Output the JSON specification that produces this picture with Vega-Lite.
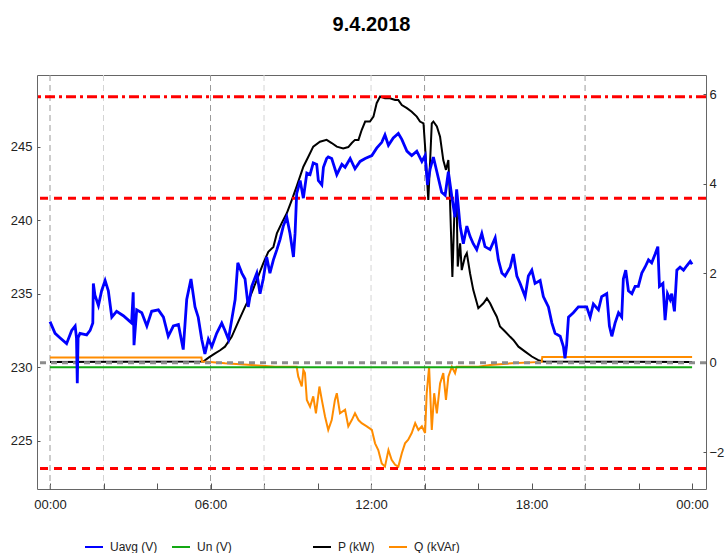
{
  "$schema": "https://vega.github.io/schema/vega-lite/v6.json",
  "width": 669,
  "height": 414,
  "autosize": {"type": "none"},
  "padding": {"left": 37, "top": 75, "right": 20, "bottom": 64},
  "title": {"text": "9.4.2018", "fontSize": 20, "font": "Liberation Sans", "fontWeight": "bold", "color": "#000000", "anchor": "middle", "offset": 40},
  "config": {
    "font": "Liberation Sans",
    "view": {"stroke": "#666666", "strokeWidth": 1},
    "axis": {"domain": false, "grid": false, "labelFontSize": 13, "labelColor": "#222222", "tickColor": "#555555", "labelFont": "Liberation Sans"},
    "legend": {"labelFont": "Liberation Sans", "labelFontSize": 12, "labelColor": "#222222", "symbolType": "stroke", "symbolSize": 324, "symbolStrokeWidth": 2, "columnPadding": 10, "labelOffset": 6}
  },
  "datasets": {
    "vg": [{"t": 0, "k": "d"}, {"t": 6, "k": "d"}, {"t": 14, "k": "d"}, {"t": 20, "k": "d"}, {"t": 2, "k": "l"}, {"t": 8, "k": "l"}, {"t": 12, "k": "l"}],
    "lim": [{"v": 248.4, "k": "dd"}, {"v": 241.5, "k": "d"}, {"v": 223.1, "k": "d"}],
    "zero": [{"v": 0}],
    "un": [{"t": 0, "v": 230, "s": "Un (V)"}, {"t": 24, "v": 230, "s": "Un (V)"}],
    "u": [
      {"t":0,"v":233.1},{"t":0.19,"v":232.3},{"t":0.37,"v":232.0},{"t":0.62,"v":231.6},{"t":0.81,"v":232.5},{"t":0.94,"v":232.8},{"t":0.99,"v":232.0},{"t":1.02,"v":228.9},{"t":1.05,"v":232.0},{"t":1.12,"v":232.3},{"t":1.37,"v":232.2},{"t":1.5,"v":232.5},{"t":1.6,"v":233.0},{"t":1.62,"v":235.7},{"t":1.68,"v":234.9},{"t":1.81,"v":234.2},{"t":1.93,"v":235.2},{"t":2.06,"v":235.9},{"t":2.18,"v":235.2},{"t":2.31,"v":233.4},{"t":2.49,"v":233.8},{"t":2.74,"v":233.5},{"t":2.93,"v":233.2},{"t":3.05,"v":233.0},{"t":3.11,"v":235.1},{"t":3.14,"v":231.5},{"t":3.24,"v":233.9},{"t":3.43,"v":233.7},{"t":3.62,"v":232.8},{"t":3.8,"v":233.8},{"t":4.05,"v":233.9},{"t":4.24,"v":233.4},{"t":4.42,"v":232.1},{"t":4.61,"v":232.8},{"t":4.8,"v":232.9},{"t":4.98,"v":231.2},{"t":5.11,"v":234.6},{"t":5.27,"v":236.0},{"t":5.42,"v":234.1},{"t":5.54,"v":233.4},{"t":5.67,"v":231.9},{"t":5.79,"v":230.9},{"t":5.92,"v":231.9},{"t":6.05,"v":231.4},{"t":6.23,"v":232.3},{"t":6.42,"v":233.0},{"t":6.54,"v":232.5},{"t":6.67,"v":231.9},{"t":6.79,"v":233.2},{"t":6.92,"v":234.6},{"t":7.02,"v":237.1},{"t":7.17,"v":236.4},{"t":7.29,"v":236.0},{"t":7.41,"v":234.1},{"t":7.54,"v":235.5},{"t":7.73,"v":236.4},{"t":7.85,"v":235.0},{"t":7.97,"v":236.0},{"t":8.1,"v":237.5},{"t":8.22,"v":236.4},{"t":8.35,"v":237.3},{"t":8.48,"v":238.0},{"t":8.6,"v":238.7},{"t":8.72,"v":239.6},{"t":8.85,"v":240.2},{"t":8.97,"v":239.1},{"t":9.1,"v":237.5},{"t":9.16,"v":239.1},{"t":9.22,"v":241.8},{"t":9.35,"v":242.7},{"t":9.47,"v":241.5},{"t":9.6,"v":243.2},{"t":9.72,"v":243.1},{"t":9.84,"v":243.9},{"t":9.97,"v":243.8},{"t":10.03,"v":242.7},{"t":10.16,"v":242.4},{"t":10.22,"v":243.6},{"t":10.34,"v":244.2},{"t":10.4,"v":244.3},{"t":10.53,"v":244.2},{"t":10.72,"v":243.1},{"t":10.91,"v":243.8},{"t":11.03,"v":243.6},{"t":11.22,"v":244.2},{"t":11.4,"v":243.5},{"t":11.59,"v":244.0},{"t":11.78,"v":244.2},{"t":12.03,"v":244.4},{"t":12.21,"v":244.9},{"t":12.4,"v":245.3},{"t":12.52,"v":245.8},{"t":12.65,"v":245.1},{"t":12.83,"v":245.6},{"t":13.02,"v":245.9},{"t":13.15,"v":245.5},{"t":13.34,"v":244.7},{"t":13.52,"v":244.4},{"t":13.71,"v":244.7},{"t":13.9,"v":244.0},{"t":14.02,"v":244.4},{"t":14.11,"v":242.4},{"t":14.21,"v":243.5},{"t":14.33,"v":244.3},{"t":14.46,"v":243.3},{"t":14.64,"v":241.9},{"t":14.77,"v":241.7},{"t":14.89,"v":243.3},{"t":15.02,"v":241.6},{"t":15.14,"v":240.2},{"t":15.2,"v":242.1},{"t":15.33,"v":239.6},{"t":15.45,"v":238.4},{"t":15.58,"v":239.6},{"t":15.7,"v":238.9},{"t":15.82,"v":238.4},{"t":15.95,"v":238.0},{"t":16.14,"v":239.1},{"t":16.26,"v":238.2},{"t":16.45,"v":238.0},{"t":16.64,"v":238.8},{"t":16.76,"v":237.3},{"t":16.89,"v":236.4},{"t":17.01,"v":236.2},{"t":17.2,"v":236.8},{"t":17.32,"v":237.7},{"t":17.45,"v":236.2},{"t":17.57,"v":235.7},{"t":17.76,"v":234.8},{"t":17.88,"v":236.2},{"t":18.01,"v":236.6},{"t":18.13,"v":235.7},{"t":18.32,"v":235.9},{"t":18.44,"v":234.8},{"t":18.63,"v":234.1},{"t":18.76,"v":233.0},{"t":18.88,"v":232.3},{"t":19.07,"v":232.1},{"t":19.19,"v":231.4},{"t":19.25,"v":230.6},{"t":19.31,"v":231.5},{"t":19.38,"v":233.4},{"t":19.56,"v":233.7},{"t":19.75,"v":234.1},{"t":19.94,"v":234.1},{"t":20.06,"v":234.1},{"t":20.19,"v":233.4},{"t":20.31,"v":234.3},{"t":20.5,"v":233.9},{"t":20.62,"v":234.8},{"t":20.81,"v":235.0},{"t":20.91,"v":232.8},{"t":21.0,"v":232.1},{"t":21.12,"v":233.0},{"t":21.25,"v":233.7},{"t":21.37,"v":233.4},{"t":21.43,"v":236.0},{"t":21.52,"v":236.6},{"t":21.62,"v":235.2},{"t":21.75,"v":235.0},{"t":21.87,"v":235.5},{"t":21.99,"v":235.5},{"t":22.12,"v":236.4},{"t":22.24,"v":236.8},{"t":22.37,"v":237.3},{"t":22.49,"v":237.1},{"t":22.62,"v":237.7},{"t":22.72,"v":238.2},{"t":22.78,"v":235.5},{"t":22.91,"v":235.7},{"t":22.99,"v":233.2},{"t":23.08,"v":235.0},{"t":23.18,"v":234.6},{"t":23.24,"v":235.0},{"t":23.34,"v":233.8},{"t":23.43,"v":236.6},{"t":23.55,"v":236.8},{"t":23.68,"v":236.6},{"t":23.8,"v":236.9},{"t":23.93,"v":237.2},{"t":24.0,"v":237.0}
    ],
    "p": [
      {"t":0,"v":0.02},{"t":5.73,"v":0.03},{"t":5.94,"v":0.12},{"t":6.17,"v":0.21},{"t":6.36,"v":0.28},{"t":6.54,"v":0.36},{"t":6.79,"v":0.58},{"t":7.04,"v":0.92},{"t":7.29,"v":1.25},{"t":7.48,"v":1.48},{"t":7.73,"v":1.85},{"t":7.97,"v":2.22},{"t":8.16,"v":2.48},{"t":8.35,"v":2.59},{"t":8.48,"v":2.89},{"t":8.66,"v":3.12},{"t":8.85,"v":3.34},{"t":9.04,"v":3.64},{"t":9.22,"v":3.94},{"t":9.47,"v":4.38},{"t":9.66,"v":4.61},{"t":9.84,"v":4.83},{"t":10.09,"v":4.94},{"t":10.34,"v":4.98},{"t":10.53,"v":4.91},{"t":10.72,"v":4.83},{"t":10.96,"v":4.79},{"t":11.15,"v":4.82},{"t":11.28,"v":4.91},{"t":11.4,"v":4.98},{"t":11.53,"v":4.98},{"t":11.65,"v":5.2},{"t":11.78,"v":5.39},{"t":11.96,"v":5.39},{"t":12.09,"v":5.5},{"t":12.21,"v":5.8},{"t":12.34,"v":5.95},{"t":12.52,"v":5.91},{"t":12.71,"v":5.91},{"t":12.9,"v":5.87},{"t":13.02,"v":5.87},{"t":13.15,"v":5.76},{"t":13.34,"v":5.69},{"t":13.52,"v":5.61},{"t":13.71,"v":5.5},{"t":13.83,"v":5.39},{"t":13.96,"v":5.35},{"t":14.02,"v":4.83},{"t":14.08,"v":4.23},{"t":14.14,"v":3.64},{"t":14.21,"v":4.53},{"t":14.27,"v":5.35},{"t":14.33,"v":5.39},{"t":14.46,"v":5.28},{"t":14.58,"v":5.05},{"t":14.7,"v":4.53},{"t":14.8,"v":4.31},{"t":14.89,"v":4.53},{"t":14.95,"v":3.64},{"t":15.04,"v":1.92},{"t":15.11,"v":3.26},{"t":15.2,"v":3.56},{"t":15.24,"v":2.15},{"t":15.33,"v":2.67},{"t":15.39,"v":2.07},{"t":15.51,"v":2.37},{"t":15.58,"v":2.45},{"t":15.7,"v":2.0},{"t":15.82,"v":1.63},{"t":16.01,"v":1.22},{"t":16.2,"v":1.33},{"t":16.33,"v":1.44},{"t":16.45,"v":1.33},{"t":16.57,"v":1.18},{"t":16.7,"v":1.03},{"t":16.82,"v":0.81},{"t":17.01,"v":0.7},{"t":17.2,"v":0.58},{"t":17.32,"v":0.51},{"t":17.51,"v":0.36},{"t":17.76,"v":0.25},{"t":18.01,"v":0.14},{"t":18.25,"v":0.06},{"t":18.44,"v":0.03},{"t":24.0,"v":0.02}
    ],
    "q": [
      {"t":0,"v":0.12},{"t":5.66,"v":0.12},{"t":5.68,"v":0.03},{"t":5.98,"v":0.02},{"t":6.54,"v":-0.01},{"t":7.1,"v":-0.03},{"t":7.54,"v":-0.05},{"t":8.04,"v":-0.07},{"t":8.41,"v":-0.09},{"t":9.22,"v":-0.09},{"t":9.28,"v":-0.31},{"t":9.41,"v":-0.53},{"t":9.47,"v":-0.16},{"t":9.53,"v":-0.23},{"t":9.6,"v":-0.83},{"t":9.72,"v":-0.98},{"t":9.84,"v":-0.75},{"t":9.94,"v":-1.13},{"t":10.07,"v":-0.53},{"t":10.16,"v":-0.83},{"t":10.28,"v":-1.2},{"t":10.4,"v":-1.5},{"t":10.53,"v":-1.28},{"t":10.65,"v":-0.83},{"t":10.72,"v":-0.68},{"t":10.84,"v":-1.13},{"t":11.03,"v":-1.05},{"t":11.15,"v":-1.42},{"t":11.28,"v":-1.28},{"t":11.4,"v":-1.13},{"t":11.53,"v":-1.28},{"t":11.65,"v":-1.35},{"t":11.84,"v":-1.42},{"t":12.03,"v":-1.5},{"t":12.15,"v":-1.8},{"t":12.27,"v":-1.95},{"t":12.4,"v":-2.25},{"t":12.52,"v":-2.32},{"t":12.65,"v":-1.95},{"t":12.77,"v":-2.17},{"t":12.9,"v":-2.28},{"t":13.02,"v":-2.32},{"t":13.15,"v":-2.02},{"t":13.27,"v":-1.8},{"t":13.39,"v":-1.72},{"t":13.52,"v":-1.57},{"t":13.65,"v":-1.35},{"t":13.77,"v":-1.5},{"t":13.9,"v":-1.42},{"t":14.02,"v":-1.57},{"t":14.08,"v":-0.68},{"t":14.17,"v":-0.09},{"t":14.27,"v":-1.5},{"t":14.36,"v":-0.68},{"t":14.46,"v":-1.13},{"t":14.58,"v":-0.46},{"t":14.7,"v":-0.23},{"t":14.8,"v":-0.83},{"t":14.89,"v":-0.31},{"t":15.02,"v":-0.09},{"t":15.14,"v":-0.23},{"t":15.2,"v":-0.09},{"t":15.33,"v":-0.09},{"t":16.01,"v":-0.09},{"t":16.45,"v":-0.05},{"t":17.26,"v":-0.01},{"t":18.38,"v":0.02},{"t":18.4,"v":0.13},{"t":24.0,"v":0.13}
    ]
  },
  "layer": [
    {
      "layer": [
        {
          "data": {"name": "vg"},
          "transform": [{"filter": "datum.k == 'l'"}],
          "mark": {"type": "rule", "color": "#d4d4d4", "strokeWidth": 1, "strokeDash": [6, 4]},
          "encoding": {"x": {"field": "t", "type": "quantitative", "scale": {"domain": [-0.486, 24.52], "nice": false, "zero": false},
            "axis": {"values": [0, 2, 4, 6, 8, 10, 12, 14, 16, 18, 20, 22, 24], "labelExpr": "datum.value % 6 == 0 ? ((datum.value == 0 || datum.value == 24) ? '00:00' : (datum.value < 10 ? '0' : '') + datum.value + ':00') : ''", "tickSize": -6, "labelPadding": 15, "title": null, "labelOverlap": false, "labelFlush": false}}}
        },
        {
          "data": {"name": "vg"},
          "transform": [{"filter": "datum.k == 'd'"}],
          "mark": {"type": "rule", "color": "#9a9a9a", "strokeWidth": 1, "strokeDash": [6, 4]},
          "encoding": {"x": {"field": "t", "type": "quantitative", "scale": {"domain": [-0.486, 24.52], "nice": false, "zero": false},
            "axis": {"values": [0, 2, 4, 6, 8, 10, 12, 14, 16, 18, 20, 22, 24], "labelExpr": "datum.value % 6 == 0 ? ((datum.value == 0 || datum.value == 24) ? '00:00' : (datum.value < 10 ? '0' : '') + datum.value + ':00') : ''", "tickSize": -6, "labelPadding": 15, "title": null, "labelOverlap": false, "labelFlush": false}}}
        },
        {
          "data": {"name": "p"},
          "transform": [{"calculate": "'P (kW)'", "as": "s"}],
          "mark": {"type": "line", "strokeWidth": 2},
          "encoding": {
            "x": {"field": "t", "type": "quantitative", "scale": {"domain": [-0.486, 24.52], "nice": false, "zero": false},
              "axis": {"values": [0, 2, 4, 6, 8, 10, 12, 14, 16, 18, 20, 22, 24], "labelExpr": "datum.value % 6 == 0 ? ((datum.value == 0 || datum.value == 24) ? '00:00' : (datum.value < 10 ? '0' : '') + datum.value + ':00') : ''", "tickSize": -6, "labelPadding": 15, "title": null, "labelOverlap": false, "labelFlush": false}},
            "y": {"field": "v", "type": "quantitative", "scale": {"domain": [-2.82, 6.43], "nice": false, "zero": false},
              "axis": {"orient": "right", "values": [-2, 0, 2, 4, 6], "tickSize": -3, "labelPadding": 6, "title": null}},
            "color": {"field": "s", "type": "nominal", "scale": {"domain": ["P (kW)", "Q (kVAr)"], "range": ["#000000", "#ff8c00"]},
              "legend": {"orient": "none", "legendX": 275, "legendY": 462, "direction": "horizontal", "title": null}}
          }
        },
        {
          "data": {"name": "q"},
          "transform": [{"calculate": "'Q (kVAr)'", "as": "s"}],
          "mark": {"type": "line", "strokeWidth": 2},
          "encoding": {
            "x": {"field": "t", "type": "quantitative", "scale": {"domain": [-0.486, 24.52], "nice": false, "zero": false},
              "axis": {"values": [0, 2, 4, 6, 8, 10, 12, 14, 16, 18, 20, 22, 24], "labelExpr": "datum.value % 6 == 0 ? ((datum.value == 0 || datum.value == 24) ? '00:00' : (datum.value < 10 ? '0' : '') + datum.value + ':00') : ''", "tickSize": -6, "labelPadding": 15, "title": null, "labelOverlap": false, "labelFlush": false}},
            "y": {"field": "v", "type": "quantitative", "scale": {"domain": [-2.82, 6.43], "nice": false, "zero": false},
              "axis": {"orient": "right", "values": [-2, 0, 2, 4, 6], "tickSize": -3, "labelPadding": 6, "title": null}},
            "color": {"field": "s", "type": "nominal", "scale": {"domain": ["P (kW)", "Q (kVAr)"], "range": ["#000000", "#ff8c00"]},
              "legend": {"orient": "none", "legendX": 275, "legendY": 462, "direction": "horizontal", "title": null}}
          }
        },
        {
          "data": {"name": "zero"},
          "mark": {"type": "rule", "color": "#8c8c8c", "strokeWidth": 3, "strokeDash": [6, 5]},
          "encoding": {"y": {"field": "v", "type": "quantitative", "scale": {"domain": [-2.82, 6.43], "nice": false, "zero": false},
            "axis": {"orient": "right", "values": [-2, 0, 2, 4, 6], "tickSize": -3, "labelPadding": 6, "title": null}}}
        }
      ]
    },
    {
      "layer": [
        {
          "data": {"name": "lim"},
          "transform": [{"filter": "datum.k == 'dd'"}],
          "mark": {"type": "rule", "color": "#ff0000", "strokeWidth": 3, "strokeDash": [10, 4, 3, 4]},
          "encoding": {"y": {"field": "v", "type": "quantitative", "scale": {"domain": [221.71, 249.88], "nice": false, "zero": false},
            "axis": {"orient": "left", "values": [225, 230, 235, 240, 245], "tickSize": -3, "labelPadding": 8, "title": null}}}
        },
        {
          "data": {"name": "lim"},
          "transform": [{"filter": "datum.k == 'd'"}],
          "mark": {"type": "rule", "color": "#ff0000", "strokeWidth": 3, "strokeDash": [8, 6]},
          "encoding": {"y": {"field": "v", "type": "quantitative", "scale": {"domain": [221.71, 249.88], "nice": false, "zero": false},
            "axis": {"orient": "left", "values": [225, 230, 235, 240, 245], "tickSize": -3, "labelPadding": 8, "title": null}}}
        },
        {
          "data": {"name": "un"},
          "mark": {"type": "line", "strokeWidth": 2},
          "encoding": {
            "x": {"field": "t", "type": "quantitative", "scale": {"domain": [-0.486, 24.52], "nice": false, "zero": false},
              "axis": {"values": [0, 2, 4, 6, 8, 10, 12, 14, 16, 18, 20, 22, 24], "labelExpr": "datum.value % 6 == 0 ? ((datum.value == 0 || datum.value == 24) ? '00:00' : (datum.value < 10 ? '0' : '') + datum.value + ':00') : ''", "tickSize": -6, "labelPadding": 15, "title": null, "labelOverlap": false, "labelFlush": false}},
            "y": {"field": "v", "type": "quantitative", "scale": {"domain": [221.71, 249.88], "nice": false, "zero": false},
              "axis": {"orient": "left", "values": [225, 230, 235, 240, 245], "tickSize": -3, "labelPadding": 8, "title": null}},
            "color": {"field": "s", "type": "nominal", "scale": {"domain": ["Uavg (V)", "Un (V)"], "range": ["#0000ff", "#13a813"]},
              "legend": {"orient": "none", "legendX": 47, "legendY": 462, "direction": "horizontal", "title": null}}
          }
        },
        {
          "data": {"name": "u"},
          "transform": [{"calculate": "'Uavg (V)'", "as": "s"}],
          "mark": {"type": "line", "strokeWidth": 2.8},
          "encoding": {
            "x": {"field": "t", "type": "quantitative", "scale": {"domain": [-0.486, 24.52], "nice": false, "zero": false},
              "axis": {"values": [0, 2, 4, 6, 8, 10, 12, 14, 16, 18, 20, 22, 24], "labelExpr": "datum.value % 6 == 0 ? ((datum.value == 0 || datum.value == 24) ? '00:00' : (datum.value < 10 ? '0' : '') + datum.value + ':00') : ''", "tickSize": -6, "labelPadding": 15, "title": null, "labelOverlap": false, "labelFlush": false}},
            "y": {"field": "v", "type": "quantitative", "scale": {"domain": [221.71, 249.88], "nice": false, "zero": false},
              "axis": {"orient": "left", "values": [225, 230, 235, 240, 245], "tickSize": -3, "labelPadding": 8, "title": null}},
            "color": {"field": "s", "type": "nominal", "scale": {"domain": ["Uavg (V)", "Un (V)"], "range": ["#0000ff", "#13a813"]},
              "legend": {"orient": "none", "legendX": 47, "legendY": 462, "direction": "horizontal", "title": null}}
          }
        }
      ]
    }
  ],
  "resolve": {"scale": {"y": "independent", "color": "independent"}}
}
